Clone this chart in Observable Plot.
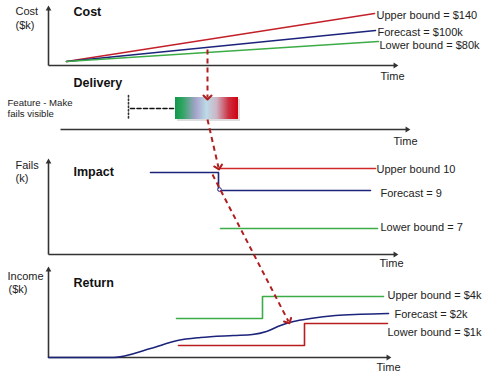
<!DOCTYPE html>
<html><head><meta charset="utf-8">
<script src="https://cdn.jsdelivr.net/npm/d3@7"></script>
<script src="https://cdn.jsdelivr.net/npm/@observablehq/plot@0.6"></script>
<style>body{margin:0;background:#fff}</style>
</head><body><div id="chart"></div>
<script>
// ---- data (diagram units: x = time along each panel, y = vertical position) ----
const axesWithArrow = [
  {x1:48,y1:65,x2:395,y2:65},{x1:48,y1:65,x2:48,y2:8},
  {x1:60,y1:129,x2:407,y2:129},
  {x1:48,y1:254,x2:395,y2:254},{x1:48,y1:254,x2:48,y2:161},
  {x1:48,y1:357,x2:388,y2:357},{x1:48,y1:357,x2:48,y2:269}
];
const costUpper = [[66,61],[374,13]];
const costForecast = [[66,61],[375,30]];
const costLower = [[66,61],[378,41]];

const deliveryBar = [{x1:175,x2:238,y1:97,y2:119}];
const deliveryLead = [[130,108],[175,108]];
const deliveryTick = [[128,95],[128,119]];

const impactForecast = [[150,172],[218,172],[218,190],[370,190]];
const impactUpper = [[218,168],[375,168]];
const impactLower = [[220,228],[377,228]];

const returnForecast = [[48,357],[113,357],[150,348],[177,340],[200,337],[233,335],[252,334],[266,331],[280,325],[293,321],[310,318],[335,315],[360,313.8],[388,313]];
const returnUpper = [[176,318],[262,318],[262,296],[383,296]];
const returnLower = [[178,345],[304,345],[304,323],[387,323]];

const dependencyArrows = [
  {x1:207,y1:49,x2:207,y2:97},
  {x1:207,y1:119,x2:218,y2:167},
  {x1:212,y1:174,x2:288,y2:321}
];

const panelTitles = [
  {t:"Cost",x:73,y:11},{t:"Delivery",x:73,y:82},{t:"Impact",x:73,y:171},{t:"Return",x:73,y:282}
];
const axisTitles = [
  {t:"Cost",x:15,y:11},{t:"($k)",x:15,y:25},
  {t:"Fails",x:15,y:165},{t:"(k)",x:15,y:178},
  {t:"Income",x:7,y:276},{t:"($k)",x:8,y:289}
];
const timeLabels = [{t:"Time",x:380,y:76},{t:"Time",x:393,y:141},{t:"Time",x:379,y:263},{t:"Time",x:376,y:367}];
const featureLabels = [{t:"Feature - Make",x:7,y:102},{t:"fails visible",x:7,y:113}];
const seriesLabels = [
  {t:"Upper bound = $140",x:376,y:15},
  {t:"Forecast = $100k",x:377,y:32},
  {t:"Lower bound = $80k",x:379,y:45},
  {t:"Upper bound 10",x:376,y:169},
  {t:"Forecast = 9",x:380,y:193},
  {t:"Lower bound = 7",x:380,y:227},
  {t:"Upper bound = $4k",x:387,y:295},
  {t:"Forecast = $2k",x:394,y:314},
  {t:"Lower bound = $1k",x:387,y:332}
];

// ---- styles ----
const RED = "#c4202a", BLUE = "#1c237a", GREEN = "#3cac47", DASHRED = "#b01e1e";

function tri(color) {
  const m = d3.create("svg:marker")
    .attr("viewBox","-5 -5 10 10").attr("markerWidth",6).attr("markerHeight",6)
    .attr("orient","auto").attr("fill",color).attr("stroke","none");
  m.append("path").attr("d","M-2,-3L3,0L-2,3Z");
  return m.node();
}
const pts = a => a.map(([x,y]) => ({x,y}));
const line = (a, o) => Plot.line(pts(a), {x:"x", y:"y", strokeWidth:1.6, ...o});
const txt = (a, o) => Plot.text(a, {x:"x", y:"y", text:"t", textAnchor:"start", lineAnchor:"middle", fill:"#222", fontSize:11, ...o});

const chart = Plot.plot({
  width: 500, height: 380, margin: 0,
  x: {domain:[0,500], range:[0,500], axis:null},
  y: {domain:[0,380], range:[0,380], axis:null},
  style: {fontFamily:"'Liberation Sans', Arial, sans-serif", background:"#fff"},
  marks: [
    Plot.link(axesWithArrow, {x1:"x1",y1:"y1",x2:"x2",y2:"y2", stroke:"#333", strokeWidth:1.6, markerEnd: tri}),
    // cost
    line(costUpper, {stroke:RED}),
    line(costForecast, {stroke:BLUE}),
    line(costLower, {stroke:GREEN}),
    // delivery
    line(deliveryTick, {stroke:"#333", strokeWidth:1.6, strokeDasharray:"1.5,2"}),
    line(deliveryLead, {stroke:"#111", strokeWidth:1.6, strokeDasharray:"4,2.5"}),
    Plot.rect(deliveryBar, {x1:d=>d.x1+2, x2:d=>d.x2+2, y1:d=>d.y1+2, y2:d=>d.y2+2, fill:"#bbb", fillOpacity:0.5}),
    Plot.rect(deliveryBar, {x1:"x1", x2:"x2", y1:"y1", y2:"y2", fill:"url(#delivGrad)"}),
    // impact
    line(impactForecast, {stroke:BLUE}),
    line(impactUpper, {stroke:"#d02828"}),
    line(impactLower, {stroke:GREEN}),
    Plot.dot([{x:219,y:189}], {x:"x", y:"y", r:1.8, stroke:BLUE, fill:"#fff", strokeWidth:1}),
    // return
    line(returnUpper, {stroke:GREEN}),
    line(returnLower, {stroke:"#b81c1c"}),
    line(returnForecast, {stroke:BLUE, curve:"monotone-x"}),
    // dependency arrows
    Plot.link(dependencyArrows, {x1:"x1",y1:"y1",x2:"x2",y2:"y2", stroke:DASHRED, strokeWidth:2, strokeDasharray:"5,4", markerEnd:"arrow"}),
    // text
    txt(panelTitles, {fontWeight:"bold", fontSize:12.5, fill:"#111"}),
    txt(axisTitles, {}),
    txt(timeLabels, {}),
    txt(featureLabels, {fontSize:9.6}),
    txt(seriesLabels, {})
  ]
});

const svg = d3.select(chart);
svg.selectAll("marker").attr("stroke-dasharray","none");
const grad = svg.insert("defs", ":first-child").append("linearGradient")
  .attr("id","delivGrad").attr("x1","0%").attr("x2","100%").attr("y1","0%").attr("y2","0%");
[[0,"#11984a"],[0.12,"#2fa563"],[0.33,"#a7a3cc"],[0.5,"#bcdbe6"],[0.66,"#cdb4c4"],[0.85,"#cc3040"],[1,"#d20010"]]
  .forEach(([o,c]) => grad.append("stop").attr("offset",o).attr("stop-color",c));
document.getElementById("chart").append(chart);
</script></body></html>
